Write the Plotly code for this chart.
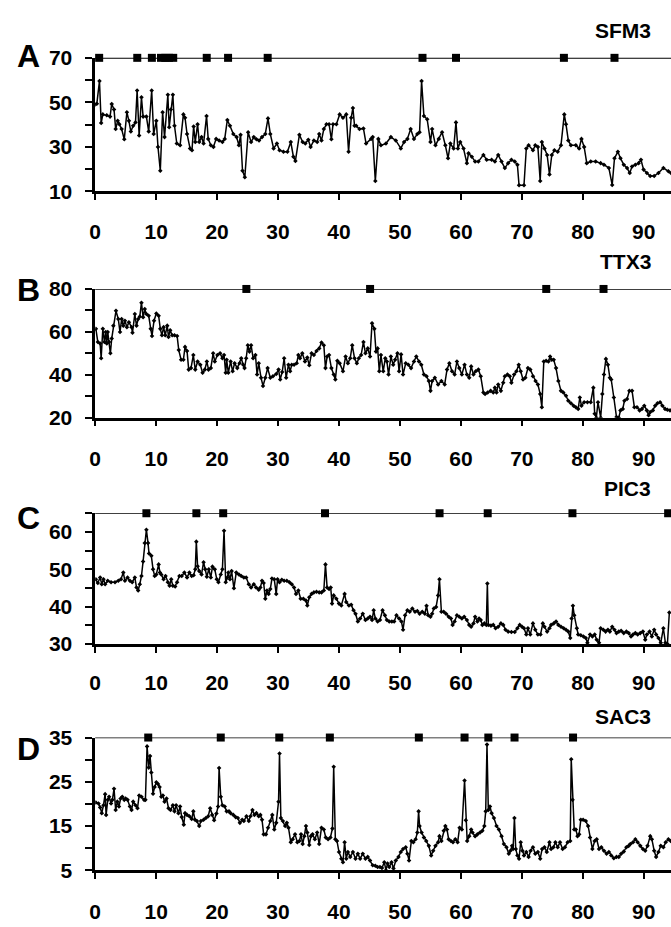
import plotly.graph_objects as go

# ---------------- data ----------------
sfm3_x = [0.0,0.27,0.7,0.98,1.25,1.9,2.44,2.71,3.09,3.36,3.69,3.96,4.34,4.77,5.2,5.53,5.85,6.23,6.61,6.88,7.21,7.59,7.86,8.4,8.78,9.27,9.59,10.03,10.3,10.68,11.06,11.38,11.92,12.14,12.41,12.74,13.01,13.39,13.93,14.47,14.74,15.07,15.56,15.88,16.15,16.42,16.8,17.07,17.45,17.78,18.27,18.54,18.97,19.4,19.84,20.33,20.87,21.25,21.68,22.11,22.66,23.2,23.58,23.85,24.17,24.55,25.09,25.58,26.02,26.45,26.88,27.37,27.91,28.35,28.73,29.27,29.81,30.24,30.89,31.54,32.09,32.52,32.85,33.5,34.04,34.47,34.96,35.34,35.88,36.42,36.75,37.13,37.51,37.94,38.37,38.75,39.02,39.57,40.11,40.65,41.19,41.57,42.0,42.28,42.55,42.82,43.36,44.01,44.44,45.26,45.53,45.96,46.45,46.88,47.7,48.51,49.32,50.14,50.68,51.22,51.76,52.3,52.85,53.22,53.55,53.93,54.47,55.01,55.28,55.83,56.37,56.91,57.45,57.89,58.27,58.81,59.19,59.51,59.89,60.43,60.98,61.25,61.79,62.33,62.87,63.69,64.23,65.04,65.58,66.12,66.67,67.21,67.75,68.29,68.83,69.27,69.54,70.35,70.73,71.11,71.82,72.2,72.63,73.01,73.28,73.71,74.15,74.53,74.91,75.34,75.88,76.42,76.96,77.24,77.62,78.05,78.86,79.4,79.78,80.22,80.65,81.3,82.11,82.93,83.47,84.28,84.82,85.2,85.75,86.18,86.72,87.26,87.7,88.08,88.62,89.16,89.54,89.97,90.51,91.06,91.71,92.41,93.22,94.04,94.47]
sfm3_y = [49.0,49.4,59.6,40.7,44.6,44.2,43.6,49.3,46.8,38.0,41.7,40.2,38.0,33.4,45.6,41.7,36.9,39.5,41.0,55.3,35.1,52.3,43.6,43.6,36.9,55.3,35.8,41.7,30.0,19.3,45.6,34.4,53.4,38.8,46.8,53.4,39.5,31.5,30.7,44.6,43.1,35.8,29.3,28.5,39.2,32.2,40.2,32.2,34.4,31.5,43.9,33.6,30.7,30.0,33.6,32.9,32.2,33.6,42.1,39.5,35.8,34.4,30.7,35.4,19.3,16.4,36.6,32.2,34.4,33.4,32.9,34.4,35.8,42.8,35.8,29.3,31.5,28.5,27.8,27.8,32.2,25.6,23.7,35.4,32.2,31.5,33.2,30.0,32.9,32.2,35.8,32.9,38.0,40.2,40.2,33.4,40.2,40.2,44.6,43.1,44.6,27.8,43.1,47.5,39.5,39.5,38.0,38.3,31.5,33.6,34.4,14.7,33.6,30.7,31.5,34.4,32.9,29.3,32.2,33.6,38.0,33.6,35.8,36.6,59.6,43.9,42.4,32.2,38.0,30.7,33.6,36.6,30.7,24.9,31.5,29.3,41.0,29.3,32.2,29.3,22.7,27.1,25.6,23.4,23.4,26.4,24.2,24.2,23.4,26.4,23.4,20.5,22.7,24.2,23.4,22.0,12.8,12.8,29.3,30.7,28.5,30.7,30.0,14.7,32.2,29.3,26.4,17.6,26.4,28.5,27.8,30.7,44.6,40.2,32.9,30.7,30.7,29.3,33.6,30.0,22.7,23.4,23.4,22.7,22.0,20.5,12.9,24.9,27.8,24.9,22.0,20.5,18.3,21.2,22.0,22.7,24.2,19.8,18.3,16.9,16.9,18.3,20.5,19.1,18.3]
sfm3_marks = [0.65,6.9,9.3,10.8,11.5,12.1,12.8,18.3,21.8,28.3,53.7,59.2,76.9,85.2]

ttx3_x = [0.11,0.43,0.81,0.98,1.25,1.52,1.73,1.9,2.06,2.28,2.49,2.71,2.98,3.41,3.79,4.07,4.34,4.61,4.88,5.2,5.53,5.96,6.12,6.5,6.78,7.05,7.32,7.59,7.86,8.13,8.4,8.78,9.11,9.32,9.65,10.03,10.41,10.68,10.95,11.22,11.49,11.82,12.03,12.3,12.63,13.01,13.44,13.71,14.09,14.47,14.74,15.07,15.34,15.72,16.1,16.42,16.8,17.24,17.62,17.99,18.32,18.59,18.97,19.35,19.62,20.05,20.49,20.87,21.14,21.41,21.57,21.84,22.22,22.55,22.87,23.31,23.69,23.96,24.28,24.5,24.77,25.04,25.31,25.58,25.91,26.29,26.56,26.83,27.21,27.53,27.91,28.29,28.73,29.16,29.7,30.08,30.35,30.68,31.0,31.33,31.71,31.98,32.25,32.63,33.06,33.33,33.6,33.98,34.42,34.8,35.12,35.5,35.88,36.31,36.75,37.13,37.51,37.78,38.05,38.37,38.75,39.13,39.4,39.73,40.11,40.65,41.08,41.46,41.84,42.17,42.55,42.93,43.25,43.63,44.01,44.34,44.72,45.09,45.42,45.8,46.07,46.34,46.61,46.88,47.26,47.59,47.86,48.13,48.51,48.89,49.21,49.59,49.86,50.19,50.51,50.95,51.38,51.82,52.3,52.68,53.12,53.5,53.93,54.36,54.74,55.01,55.28,55.72,56.26,56.8,57.34,57.72,58.1,58.54,58.97,59.35,59.73,60.16,60.6,60.98,61.36,61.68,62.06,62.44,62.87,63.25,63.69,63.96,64.39,64.88,65.31,65.58,65.85,66.12,66.56,66.94,67.21,67.64,68.02,68.29,68.73,69.11,69.49,69.81,70.19,70.57,71.0,71.38,71.82,72.25,72.63,73.01,73.28,73.6,73.98,74.36,74.63,74.91,75.23,75.61,75.99,76.42,76.8,77.24,77.62,78.05,78.48,78.86,79.24,79.51,79.78,80.22,80.76,81.3,81.73,81.95,82.22,82.49,82.93,83.2,83.47,83.79,84.12,84.44,84.66,85.09,85.53,85.91,86.18,86.56,86.83,87.26,87.64,88.08,88.46,88.89,89.32,89.7,90.08,90.51,90.79,91.06,91.49,91.87,92.25,92.68,93.06,93.5,93.88,94.31]
ttx3_y = [61.4,55.3,54.6,47.7,61.4,55.3,59.9,54.6,59.9,55.3,50.0,56.9,62.9,69.8,66.0,59.9,66.0,62.9,65.2,62.2,64.5,62.2,59.6,68.3,62.9,66.0,67.2,73.6,66.8,70.6,68.3,67.5,61.4,58.1,65.2,68.6,67.5,61.4,58.4,62.2,58.4,62.9,57.6,60.7,58.4,58.4,58.1,51.5,47.0,47.0,53.0,51.1,42.4,43.1,49.2,42.4,46.2,44.7,40.9,42.4,46.2,42.4,43.1,50.0,46.2,49.2,50.0,47.7,49.2,40.9,47.0,40.9,46.2,41.6,45.4,43.1,45.4,47.7,44.7,43.1,47.7,53.8,50.8,53.8,47.7,49.2,40.1,45.4,38.6,34.8,38.6,43.1,38.6,39.3,40.4,42.4,37.8,41.3,47.7,38.6,44.7,41.6,44.7,44.7,45.4,49.2,47.7,50.0,46.2,48.0,44.4,50.0,49.2,51.1,52.3,55.0,53.8,43.1,48.5,49.2,43.1,40.1,37.8,46.5,45.4,41.6,48.5,45.4,47.7,53.8,47.7,45.4,47.7,49.2,55.3,50.0,52.3,48.5,64.0,61.4,50.8,52.3,41.6,49.2,41.6,47.7,46.2,40.1,48.5,44.7,47.0,50.0,41.6,49.5,40.1,45.4,44.7,43.1,46.2,48.5,46.2,44.7,40.1,39.3,37.1,32.5,37.1,38.6,35.5,37.1,35.5,42.4,45.4,41.6,40.1,46.2,43.1,40.1,44.7,40.1,38.6,43.9,40.1,41.6,42.4,39.3,31.7,31.0,31.7,32.5,31.7,34.0,31.7,35.5,32.5,36.3,39.3,40.1,39.3,36.3,40.1,41.6,44.7,41.6,37.8,38.6,43.1,42.4,39.3,37.1,35.5,31.0,24.9,46.2,46.5,46.2,48.5,47.0,47.0,43.1,37.1,32.5,31.7,30.2,27.9,26.7,25.6,24.9,24.1,29.4,25.6,27.2,27.2,27.2,34.0,21.8,20.0,27.2,20.0,31.0,40.1,47.4,44.7,38.6,37.8,29.4,20.3,20.0,23.4,24.1,27.9,28.7,32.5,32.5,24.9,24.9,23.4,24.1,25.6,23.4,21.1,22.6,23.4,25.6,26.7,27.2,25.6,24.1,23.7,23.4]
ttx3_marks = [24.8,45.1,74.0,83.4]

pic3_x = [0.11,0.43,0.81,1.08,1.36,1.63,2.06,2.6,3.25,3.79,4.23,4.61,4.88,5.31,5.69,6.07,6.5,6.78,7.05,7.32,7.59,7.86,8.13,8.4,8.67,8.83,9.21,9.49,9.76,10.03,10.41,10.62,10.84,11.22,11.54,11.92,12.2,12.47,12.74,13.12,13.44,13.82,14.2,14.63,15.07,15.45,15.83,16.15,16.42,16.59,16.8,17.07,17.45,17.78,18.05,18.32,18.64,18.97,19.24,19.62,19.95,20.22,20.6,20.87,21.14,21.41,21.68,21.84,22.11,22.38,22.76,23.14,23.58,23.96,24.39,24.77,25.2,25.58,26.02,26.4,26.83,27.1,27.37,27.64,27.91,28.18,28.46,28.73,29.0,29.38,29.7,29.92,30.24,30.62,31.0,31.44,31.87,32.25,32.63,32.95,33.33,33.71,34.15,34.58,34.8,35.12,35.5,35.88,36.31,36.75,37.13,37.51,37.78,38.05,38.37,38.64,38.86,39.13,39.57,40.0,40.38,40.92,41.19,41.63,42.0,42.38,42.71,43.09,43.47,43.9,44.34,44.72,45.09,45.42,45.69,45.96,46.34,46.72,47.15,47.53,47.86,48.24,48.67,49.05,49.43,49.86,50.24,50.51,50.84,51.22,51.6,52.03,52.47,52.85,53.22,53.66,54.09,54.36,54.63,55.01,55.28,55.56,55.93,56.26,56.48,56.8,57.18,57.56,57.99,58.37,58.64,58.97,59.35,59.73,60.16,60.54,60.98,61.36,61.68,62.06,62.33,62.71,62.98,63.25,63.52,63.85,64.17,64.34,64.5,64.93,65.31,65.69,66.12,66.56,66.94,67.32,67.75,68.29,68.83,69.27,69.65,70.03,70.35,70.73,71.0,71.38,71.82,72.2,72.63,73.06,73.44,73.71,74.15,74.53,74.8,75.23,75.61,75.99,76.42,76.86,77.24,77.62,77.94,78.16,78.38,78.59,79.02,79.24,79.67,80.11,80.49,80.76,81.19,81.57,81.95,82.28,82.66,82.93,83.36,83.74,84.12,84.44,84.82,85.2,85.53,85.91,86.29,86.72,87.15,87.53,87.91,88.24,88.62,89.0,89.43,89.86,90.24,90.51,90.95,91.33,91.71,92.03,92.41,92.79,93.22,93.55,93.88,94.2]
pic3_y = [47.3,46.3,47.8,46.0,47.3,46.0,46.9,46.5,46.5,46.9,47.3,49.1,46.9,47.8,46.9,46.5,47.8,45.1,44.3,46.0,48.2,52.1,57.0,60.6,57.0,54.2,53.6,50.0,48.2,48.6,51.3,49.1,48.6,47.3,48.2,46.5,45.6,47.3,45.6,45.4,46.5,48.2,48.2,49.1,47.8,49.1,48.2,48.4,50.0,57.4,50.8,49.5,48.6,51.9,50.0,48.0,50.0,47.8,50.7,50.0,47.3,46.5,48.6,50.0,60.3,46.5,47.8,49.1,47.3,49.5,44.9,49.1,48.6,48.2,47.8,47.8,46.0,45.1,46.0,45.1,44.5,45.1,46.9,46.3,42.1,44.3,43.4,44.7,47.5,47.3,43.4,47.3,46.5,47.2,46.9,46.9,46.5,46.0,45.1,43.4,44.3,42.1,42.1,41.6,40.3,42.5,43.4,43.8,44.0,43.8,43.8,44.3,51.3,45.1,44.7,45.1,40.8,43.0,42.1,40.8,40.3,43.4,41.2,40.3,40.5,39.0,38.1,36.0,36.8,38.1,36.4,36.8,37.3,36.4,39.0,36.8,36.0,36.4,39.0,37.7,36.4,36.0,36.0,36.0,37.7,36.8,36.0,33.8,37.7,39.0,38.6,39.5,38.6,38.8,38.1,38.6,38.1,40.2,37.7,37.3,38.1,39.5,39.9,43.0,47.3,38.6,38.6,38.1,37.3,36.8,35.1,36.0,37.7,37.3,36.8,37.3,36.4,35.1,34.6,35.5,37.3,36.0,36.8,36.4,35.1,35.5,35.1,46.2,35.1,34.9,35.1,34.2,34.6,35.5,35.1,33.8,33.3,33.2,33.2,34.2,35.1,34.6,34.2,32.5,34.2,32.5,35.5,33.8,32.5,32.5,35.5,34.6,33.3,34.2,35.1,35.5,36.0,35.1,34.6,34.2,33.8,33.3,31.6,36.8,40.2,37.7,34.2,32.5,32.3,32.0,31.6,30.3,32.5,32.0,32.5,31.1,30.3,34.2,33.8,33.3,33.8,33.3,34.6,33.8,32.9,33.3,33.5,32.9,33.3,32.9,32.0,32.5,32.9,32.5,32.9,33.3,31.1,32.5,33.3,32.0,33.8,32.5,31.6,30.3,34.2,30.3,30.0,38.4]
pic3_marks = [8.4,16.6,21.0,37.7,56.5,64.4,78.3,94.0]

sac3_x = [0.11,0.54,0.81,1.08,1.36,1.63,1.79,2.06,2.28,2.6,2.82,3.09,3.36,3.63,3.9,4.17,4.44,4.77,4.99,5.31,5.69,5.96,6.23,6.61,6.94,7.21,7.59,8.02,8.24,8.51,8.78,9.0,9.21,9.49,9.76,10.03,10.3,10.57,10.84,11.11,11.38,11.71,12.03,12.36,12.74,13.01,13.28,13.66,13.93,14.2,14.53,14.74,15.07,15.45,15.83,16.1,16.37,16.69,17.07,17.34,17.78,18.16,18.54,18.86,19.19,19.51,19.89,20.16,20.33,20.6,20.87,21.25,21.57,21.95,22.22,22.66,23.04,23.41,23.74,24.12,24.39,24.82,25.2,25.47,25.8,26.12,26.45,26.83,27.1,27.37,27.64,28.02,28.35,28.73,29.05,29.38,29.7,30.08,30.24,30.46,30.79,31.17,31.44,31.71,32.09,32.41,32.79,33.17,33.5,33.77,34.04,34.31,34.58,34.8,35.12,35.39,35.66,36.04,36.42,36.75,37.13,37.51,37.83,38.21,38.59,38.92,39.13,39.4,39.67,40.0,40.38,40.65,40.92,41.19,41.46,41.84,42.28,42.71,43.09,43.47,43.9,44.34,44.72,45.09,45.53,45.96,46.34,46.72,47.05,47.43,47.7,47.97,48.24,48.62,48.94,49.32,49.76,50.14,50.51,50.95,51.22,51.49,51.87,52.2,52.57,52.85,53.06,53.22,53.55,53.93,54.31,54.74,55.12,55.45,55.83,56.26,56.48,56.8,57.18,57.45,57.72,57.99,58.37,58.7,59.08,59.46,59.78,60.16,60.6,60.81,61.03,61.36,61.68,61.9,62.33,62.71,63.14,63.52,63.85,64.07,64.28,64.5,64.77,65.04,65.42,65.85,66.23,66.67,67.05,67.48,67.86,68.13,68.4,68.56,68.78,69.0,69.27,69.54,69.81,70.08,70.35,70.73,71.11,71.44,71.82,72.2,72.63,73.01,73.33,73.71,74.09,74.53,74.8,75.18,75.5,75.88,76.26,76.69,77.07,77.51,77.94,78.1,78.32,78.59,78.86,79.13,79.4,79.67,80.05,80.49,80.87,81.19,81.57,81.95,82.28,82.66,83.04,83.47,83.9,84.28,84.66,85.09,85.53,85.91,86.29,86.72,87.15,87.53,87.8,88.24,88.62,89.0,89.43,89.86,90.24,90.62,91.06,91.33,91.71,92.03,92.41,92.79,93.22,93.6,94.04,94.42]
sac3_y = [20.3,20.1,19.2,17.9,19.7,22.2,17.5,20.9,21.6,20.1,20.9,23.4,18.6,20.5,19.4,21.2,21.6,20.9,21.2,20.9,19.4,18.6,20.5,19.7,19.0,21.9,21.6,20.9,20.9,33.0,28.2,30.8,27.1,22.3,23.8,24.9,24.5,23.8,21.6,21.9,20.5,21.2,19.0,18.6,19.7,18.3,19.7,17.9,19.4,17.0,15.3,17.9,17.5,17.2,16.6,18.3,16.4,16.1,15.0,16.1,16.4,16.8,17.2,19.0,17.5,16.3,17.8,19.4,28.1,21.6,19.7,19.4,18.3,18.3,17.9,17.5,17.0,16.8,15.7,16.4,16.1,17.2,16.1,17.2,18.6,17.5,17.9,17.2,17.5,16.4,13.1,13.1,14.6,16.1,17.5,14.2,15.7,20.5,31.4,16.8,16.1,15.0,15.7,14.6,11.3,12.0,13.1,11.3,11.6,13.1,10.9,12.7,15.0,13.5,10.7,12.7,13.1,12.0,13.5,10.9,14.6,14.2,12.4,12.0,12.4,14.4,28.4,12.0,11.6,9.1,7.6,6.8,11.3,7.6,9.1,8.0,9.1,7.6,8.7,7.6,8.7,7.6,8.0,7.2,6.1,6.0,5.7,5.7,5.5,6.8,5.0,6.5,5.7,6.8,5.4,7.2,8.0,9.1,9.8,10.2,8.7,7.2,11.6,11.3,12.0,13.5,18.3,15.0,13.5,12.4,11.6,10.5,8.3,9.4,10.5,11.3,12.7,11.6,13.9,15.0,14.2,12.0,11.6,11.3,12.0,11.3,14.6,14.2,25.3,16.3,11.6,12.7,14.2,13.5,12.7,13.1,13.5,13.9,15.0,18.3,33.4,18.6,19.4,17.9,16.8,15.0,14.2,12.7,10.9,10.2,8.7,9.4,10.5,9.8,16.8,9.8,8.3,7.6,11.3,9.4,8.3,9.1,8.0,9.4,10.2,8.7,9.1,7.6,9.8,10.2,9.1,11.3,9.8,10.2,11.3,10.2,11.3,9.8,10.2,11.3,11.6,30.1,20.9,14.2,14.2,12.7,13.1,16.4,16.4,16.1,15.0,12.4,9.8,11.6,12.0,9.8,10.2,9.4,8.7,9.1,8.3,7.7,8.0,8.0,8.7,9.2,10.2,10.5,10.9,11.3,12.0,11.3,10.5,9.8,9.4,10.5,12.7,12.0,9.4,8.0,9.1,10.5,10.2,11.3,12.0,11.6]
sac3_marks = [8.7,20.6,30.2,38.5,53.1,60.6,64.5,68.8,78.4]

panel_letters = ["A", "B", "C", "D"]
panel_titles = ["SFM3", "TTX3", "PIC3", "SAC3"]
y_ranges = [[10, 70], [20, 80], [30, 65], [5, 35]]
y_tickvals = [[10, 20, 30, 40, 50, 60, 70], [20, 30, 40, 50, 60, 70, 80],
              [30, 35, 40, 45, 50, 55, 60, 65], [5, 10, 15, 20, 25, 30, 35]]
y_ticktext = [["10", "", "30", "", "50", "", "70"], ["20", "", "40", "", "60", "", "80"],
              ["30", "", "40", "", "50", "", "60", ""], ["5", "", "15", "", "25", "", "35"]]
x_tickvals = [0, 10, 20, 30, 40, 50, 60, 70, 80, 90]

series = [(sfm3_x, sfm3_y, sfm3_marks), (ttx3_x, ttx3_y, ttx3_marks),
          (pic3_x, pic3_y, pic3_marks), (sac3_x, sac3_y, sac3_marks)]

# ---------------- layout geometry (pixels) ----------------
W, H = 671, 927
plot_left = 90
panel_px = [(47, 184), (284, 416), (514, 648), (744, 880)]   # top, bottom
x_label_standoff = [14, 14, 12, 15]
letter_py = [45, 285, 519, 756]
title_py = [19, 256, 489, 722]

FONT = "Liberation Sans, Arial, sans-serif"
TICK_SIZE = 21
fig = go.Figure()
layout = dict(
    width=W, height=H, margin=dict(l=0, r=0, t=0, b=0),
    paper_bgcolor="white", plot_bgcolor="white", showlegend=False,
    font=dict(family=FONT, color="black"),
)
shapes = []
annotations = []
for i, ((xs, ys, marks), (top, bot)) in enumerate(zip(series, panel_px)):
    n = i + 1
    xa = "x" if n == 1 else f"x{n}"
    ya = "y" if n == 1 else f"y{n}"
    fig.add_trace(go.Scatter(
        x=xs, y=ys, xaxis=xa, yaxis=ya, mode="lines+markers",
        line=dict(color="black", width=1.5),
        marker=dict(symbol="diamond", size=3.5, color="black"),
        cliponaxis=True))
    ytop = y_ranges[i][1]
    fig.add_trace(go.Scatter(
        x=marks, y=[ytop] * len(marks), xaxis=xa, yaxis=ya, mode="markers",
        marker=dict(symbol="square", size=8, color="black"),
        cliponaxis=False))
    dom_y = [1 - bot / H, 1 - top / H]
    layout["xaxis" if n == 1 else f"xaxis{n}"] = dict(
        domain=[plot_left / W, 1], range=[0, 94.47], anchor=ya,
        showline=True, linecolor="black", linewidth=2.5,
        ticks="outside", ticklen=6, tickwidth=2, tickcolor="black",
        tickvals=x_tickvals, ticktext=[str(v) for v in x_tickvals],
        tickfont=dict(family=FONT, size=TICK_SIZE, weight="bold", color="black"),
        ticklabelstandoff=x_label_standoff[i],
        showgrid=False, zeroline=False, fixedrange=True)
    layout["yaxis" if n == 1 else f"yaxis{n}"] = dict(
        domain=dom_y, range=y_ranges[i], anchor=xa,
        showline=True, linecolor="black", linewidth=2.5,
        ticks="outside", ticklen=7, tickwidth=2, tickcolor="black",
        tickvals=y_tickvals[i], ticktext=y_ticktext[i],
        tickfont=dict(family=FONT, size=TICK_SIZE, weight="bold", color="black"),
        ticklabelstandoff=9,
        showgrid=False, zeroline=False, fixedrange=True)
    shapes.append(dict(type="line", xref=f"{xa} domain", yref=ya,
                       x0=0, x1=1, y0=ytop, y1=ytop,
                       line=dict(color="black", width=1.6)))
    annotations.append(dict(text=panel_letters[i], xref="paper", yref="paper",
                            x=23 / W, y=1 - letter_py[i] / H, xanchor="center", yanchor="middle",
                            showarrow=False,
                            font=dict(family=FONT, size=32, weight="bold", color="black")))
    annotations.append(dict(text=panel_titles[i], xref="paper", yref="paper",
                            x=653 / W, y=1 - title_py[i] / H, xanchor="right", yanchor="middle",
                            showarrow=False,
                            font=dict(family=FONT, size=21, weight="bold", color="black")))

layout["shapes"] = shapes
layout["annotations"] = annotations
fig.update_layout(**layout)
fig.write_html(
    "out.html",
    config={"displayModeBar": False},
    post_script="document.body.style.margin='0';document.body.style.overflow='hidden';",
)
